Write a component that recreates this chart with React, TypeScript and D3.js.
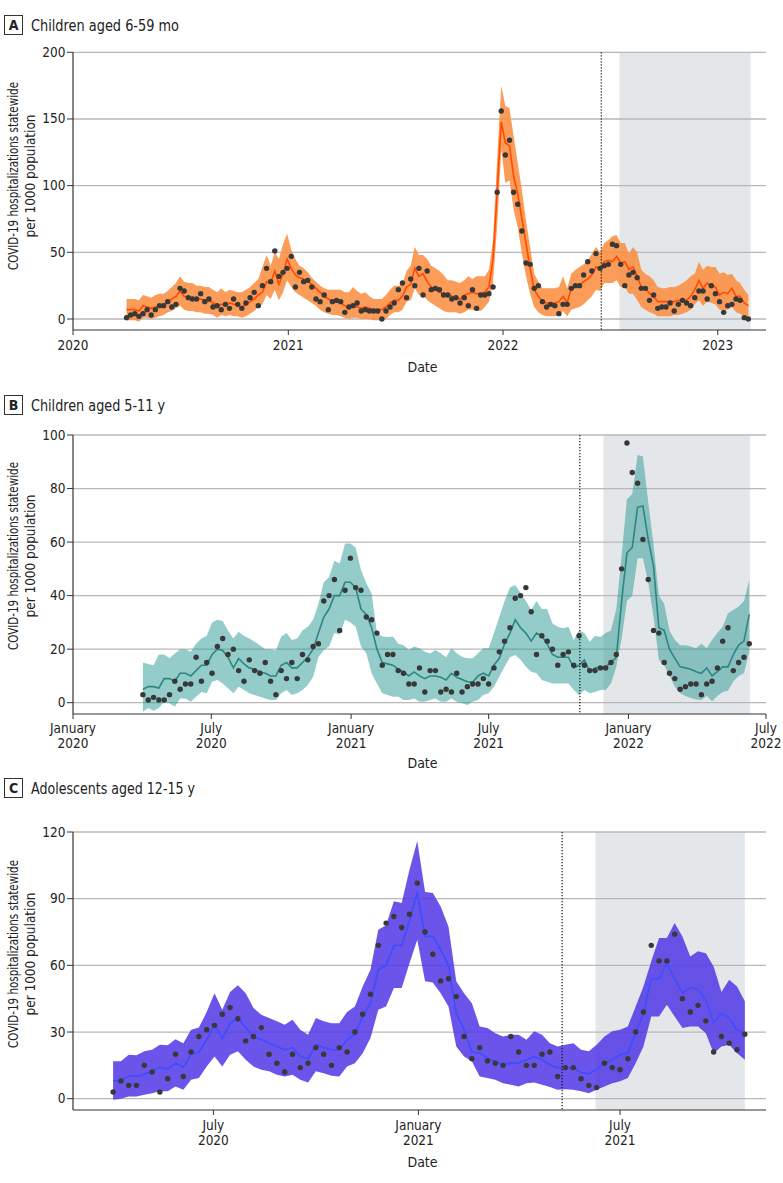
import React from "react";
import * as d3 from "d3";

// ---- Panel A: Children aged 6-59 mo (weekly from 2020-04-01) ----
const startA = "2020-04-01";
const obsA = [
  1, 3, 4, 2, 4, 7, 3, 7, 10, 10,
  13, 9, 11, 23, 21, 16, 15, 15, 19, 13,
  15, 9, 10, 7, 11, 8, 15, 11, 8, 12,
  16, 20, 10, 25, 38, 28, 51, 32, 35, 38,
  47, 24, 35, 28, 29, 24, 15, 13, 18, 7,
  13, 14, 13, 5, 9, 10, 12, 6, 7, 6,
  6, 6, 0, 6, 9, 12, 22, 27, 16, 30,
  25, 38, 18, 36, 22, 23, 22, 18, 18, 15,
  16, 12, 16, 10, 22, 8, 18, 18, 19, 24,
  95, 156, 123, 134, 95, 86, 66, 42, 41, 23,
  25, 13, 9, 11, 10, 4, 11, 11, 23, 25,
  25, 33, 43, 36, 49, 38, 40, 41, 56, 55,
  41, 25, 33, 35, 31, 23, 23, 14, 18, 8,
  9, 9, 12, 6, 11, 14, 12, 10, 16, 21,
  21, 15, 25, 19, 13, 5, 10, 11, 15, 14,
  1, 0,
];
const fitA = [
  7, 7, 7, 6, 10, 9, 8, 9, 10, 11,
  13, 15, 17, 21, 17, 16, 16, 15, 15, 14,
  14, 12, 10, 11, 10, 12, 11, 10, 9, 11,
  13, 15, 18, 20, 28, 27, 36, 26, 34, 45,
  38, 33, 31, 30, 28, 26, 23, 20, 17, 15,
  13, 13, 12, 10, 8, 10, 9, 8, 9, 8,
  7, 7, 7, 9, 12, 14, 14, 17, 24, 26,
  38, 32, 34, 28, 24, 22, 20, 19, 19, 17,
  16, 15, 18, 19, 20, 19, 19, 20, 24, 45,
  95, 148, 132, 130, 107, 94, 75, 57, 38, 22,
  17, 13, 12, 12, 12, 13, 17, 12, 23, 24,
  25, 28, 30, 33, 39, 37, 43, 44, 43, 47,
  42, 43, 37, 39, 32, 24, 23, 19, 17, 13,
  13, 13, 13, 13, 14, 13, 14, 17, 22, 29,
  23, 27, 25, 24, 18, 20, 19, 23, 17, 17,
  12, 10,
];
const hiA = [
  15, 15, 15, 14, 18, 17, 16, 18, 19, 19,
  21, 24, 27, 32, 28, 27, 27, 25, 25, 24,
  24, 22, 20, 23, 20, 22, 21, 20, 20, 22,
  24, 27, 30, 39, 48, 40, 50, 45, 56, 64,
  52, 45, 40, 38, 35, 31, 28, 25, 23, 22,
  22, 22, 22, 20, 20, 24, 21, 19, 20, 17,
  15, 15, 15, 18, 22, 25, 25, 26, 36, 40,
  54, 48, 48, 45, 40, 38, 36, 33, 29, 29,
  28, 27, 29, 32, 30, 32, 32, 32, 37, 59,
  120, 175, 160, 158, 137, 117, 97, 74, 54, 34,
  28, 23, 23, 23, 23, 24, 32, 23, 34, 37,
  39, 41, 44, 49, 54, 50, 57, 59, 62, 63,
  57, 57, 49, 54, 50, 37, 34, 32, 29, 24,
  23, 23, 24, 24, 25, 27, 29, 32, 34, 43,
  37, 40, 39, 39, 34, 35, 33, 34, 29, 27,
  22, 18,
];
const loA = [
  -1, -1, -1, -2, 1, 1, 0, 1, 2, 3,
  5, 6, 8, 10, 7, 6, 6, 5, 5, 4,
  4, 3, 1, 3, 2, 3, 2, 2, 1, 2,
  4, 6, 9, 11, 18, 15, 22, 14, 20, 29,
  24, 20, 18, 16, 14, 12, 10, 7, 5, 4,
  3, 3, 2, 1, 0, 1, 1, 0, 0, 0,
  -1, -1, -1, 0, 3, 5, 5, 7, 13, 14,
  23, 18, 18, 14, 12, 10, 8, 6, 5, 5,
  5, 4, 5, 7, 7, 6, 6, 9, 13, 27,
  70, 127, 102, 104, 82, 69, 49, 32, 19, 9,
  5, 3, 2, 2, 2, 3, 6, 2, 7, 8,
  9, 11, 14, 17, 22, 21, 27, 27, 27, 29,
  24, 24, 19, 19, 14, 9, 7, 5, 4, 2,
  2, 2, 2, 3, 3, 4, 5, 7, 11, 14,
  10, 13, 12, 11, 7, 7, 7, 9, 5, 4,
  2, 1,
];

// ---- Panel B: Children aged 5-11 y (weekly from 2020-04-02) ----
const startB = "2020-04-02";
const obsB = [
  3, 1, 2, 1, 1, 3, 8, 5, 7, 7,
  17, 8, 15, 11, 21, 24, 18, 20, 12, 8,
  16, 12, 11, 15, 8, 3, 12, 9, 15, 9,
  18, 16, 21, 22, 38, 40, 46, 27, 42, 54,
  43, 42, 32, 31, 26, 14, 18, 18, 12, 11,
  7, 7, 13, 4, 12, 12, 4, 5, 4, 11,
  4, 6, 7, 7, 9, 7, 13, 19, 23, 28,
  39, 40, 43, 34, 18, 25, 23, 20, 14, 18,
  19, 14, 25, 14, 12, 12, 13, 13, 15, 18,
  50, 97, 86, 82, 61, 46, 27, 26, 15, 11,
  9, 5, 6, 7, 7, 3, 7, 8, 13, 23,
  28, 12, 15, 17, 22,
];
const fitB = [
  5, 6, 6, 5.5, 9, 9, 8, 11, 11, 10,
  12, 14, 14, 18, 20, 19.5, 17, 13, 16.5, 14.5,
  13, 12.5, 11.5, 11, 10, 10, 14, 15, 13, 13,
  15, 17, 20, 26, 32, 35, 40, 40, 45, 45,
  43, 35, 33, 28, 20, 15, 14.5, 14, 12.5, 11.5,
  10, 11.5, 10, 9, 10, 10, 9.5, 8.5, 11, 9.5,
  8.7, 7.8, 7.6, 10, 11, 10, 14, 16.6, 22, 26,
  31, 28, 26, 23, 26, 25, 22, 18, 17, 17,
  17, 13, 14, 16, 11.5, 13, 13.4, 13.4, 15, 17,
  38, 56, 58, 73, 73.5, 61, 51, 28, 27, 20,
  16.6, 13.4, 13, 12.5, 11.6, 11, 13, 10, 11.6, 13.4,
  13.4, 18, 21.5, 23, 33,
];
const hiB = [
  15, 14.5, 14, 18, 18, 16.6, 18.4, 20, 20, 19,
  22, 24, 25, 30, 31, 30.5, 27, 24, 26.5, 25,
  24, 22.8, 21.5, 20, 20, 19.5, 24.7, 26, 23.4, 24,
  27, 28.4, 31, 37, 45, 47, 53, 52, 59.5, 59.5,
  58, 49.6, 44.6, 40.8, 26, 24.7, 24.5, 24.7, 22, 21.5,
  19.7, 21, 20.3, 19, 18.4, 19.7, 18.5, 17, 20.3, 18.5,
  17.2, 16.6, 16.6, 18.5, 20.3, 20.3, 26, 32, 38, 43,
  44, 41, 38, 34.6, 38, 35, 35, 29.6, 28.4, 27.8,
  28.4, 23.4, 27, 26, 22.8, 25, 24.5, 26, 27, 35,
  55, 76, 78, 92.5, 92, 75, 59, 40, 37, 27,
  23.4, 21.5, 21.5, 21, 20.3, 22, 20.3, 23.4, 26, 28.4,
  33.4, 34.6, 35.9, 38, 45.8,
];
const loB = [
  -3.4, -2, -3, -2, 0.4, -0.2, -1.5, 1.6, 1.6, 0.4,
  2.2, 4, 3.5, 7.8, 8.5, 7.2, 5.4, 3.5, 6, 4.7,
  3.5, 2.9, 2.2, 1.6, 1, 1, 3.5, 4.7, 2.9, 3.5,
  4.7, 6.6, 9.7, 17, 19.7, 21, 26, 25.4, 31, 30,
  28.4, 21, 18.4, 11, 7.2, 3.5, 2.9, 2.2, 2.2, 1,
  1, 1.6, 0.4, 0.4, 1, 1.6, 0.4, 0.4, 1.6, 0.4,
  -0.2, -0.9, 0.4, 1, 2.9, 3.5, 6, 9.7, 13.4, 17,
  17.8, 16, 13.4, 11.6, 11, 8.5, 7.8, 7.2, 7.2, 7.2,
  7.2, 4.7, 2.9, 4.7, 3.5, 4, 4.7, 4.7, 7.2, 13.4,
  24, 38, 40, 54, 54, 45, 32, 16, 14, 10,
  6, 3.5, 2.5, 1.8, 1.2, 1, 2.5, 0.5, 2.5, 4,
  4.5, 8, 10, 11, 19,
];

// ---- Panel C: Adolescents aged 12-15 y (weekly from 2020-04-02) ----
const startC = "2020-04-02";
const obsC = [
  3, 8, 6, 6, 15, 12, 3, 9, 20, 10,
  21, 28, 31, 33, 38, 41, 36, 26, 28, 32,
  20, 16, 12, 20, 14, 16, 23, 20, 15, 23,
  21, 30, 38, 47, 69, 79, 82, 77, 83, 97,
  75, 65, 53, 54, 46, 28, 18, 23, 17, 16,
  15, 28, 21, 15, 15, 20, 21, 10, 14, 14,
  9, 6, 5, 16, 14, 13, 18, 30, 39, 69,
  62, 62, 74, 45, 39, 42, 35, 21, 28, 25,
  22, 29,
];
const fitC = [
  8, 8, 10.3, 10, 11, 12.3, 14.2, 13.3, 16, 14.2,
  20, 21, 26.5, 33, 27, 34, 36.3, 32, 28, 26.5,
  25, 23.5, 22, 23, 19, 18, 24.3, 23, 22, 22,
  26.5, 29, 37, 43, 58, 60, 69, 69, 80, 93,
  73, 73, 67, 60, 38.5, 31, 21, 20.5, 18.3, 16.8,
  15.3, 16, 16, 17.5, 19, 17.5, 15.3, 13.8, 13.8, 13.8,
  11.8, 11.2, 13.3, 16, 17.5, 19.8, 20.5, 29.5, 38.5, 54,
  54, 61, 54, 47.5, 50, 49, 44.5, 34, 38.5, 36,
  31, 29.5,
];
const hiC = [
  16.8, 16.8, 19.8, 19.5, 21.3, 22, 24.3, 24, 26.8, 25,
  31, 32, 39, 47.5, 40, 48, 51, 47.5, 40.8, 37.8,
  36.3, 34.8, 33.3, 35.5, 31, 28.8, 36.3, 34.8, 34, 34,
  39, 41.5, 50.5, 58, 76, 78, 88.8, 88, 103, 116,
  93, 92.5, 86.5, 77.5, 52.8, 47.5, 43, 32.5, 31.8, 29.5,
  28, 28.8, 28.8, 26.5, 30.3, 28.8, 25, 23.5, 24.3, 25,
  22, 21.3, 24.3, 28, 30.3, 31, 32.5, 41.5, 50.5, 61.8,
  72.3, 72.3, 79, 73, 64, 66.3, 65.5, 59.5, 48, 53.5,
  50.5, 43.8,
];
const loC = [
  -0.5, 0, 1, 1, 1.8, 2.5, 3.3, 3.3, 5.5, 4,
  8.5, 9.3, 14.5, 19, 14.5, 19.8, 21.3, 17.5, 14.5, 13,
  12.3, 10.8, 10, 10.8, 8.5, 7.3, 12.3, 11.5, 10.3, 10,
  14.5, 16, 20.5, 27.3, 40, 41.5, 49.8, 49.8, 61, 71.5,
  52.8, 52.3, 47.5, 41.5, 23.5, 19, 16.8, 10, 9.3, 8.5,
  7, 6.3, 5.5, 7, 7.3, 6.3, 5.3, 4, 4.3, 4,
  3.3, 2.5, 4, 5.5, 7, 7.8, 9.3, 16, 23.5, 37,
  37, 42.3, 37, 31.8, 32.5, 32.5, 29.5, 20.5, 23.5, 24.3,
  20.5, 17.5,
];

// ---- axis ticks ----
const yTicksA = [0, 50, 100, 150, 200];
const yTicksB = [0, 20, 40, 60, 80, 100];
const yTicksC = [0, 30, 60, 90, 120];
const xTicksA = [
  { date: "2020-01-01", label: ["2020"] },
  { date: "2021-01-01", label: ["2021"] },
  { date: "2022-01-01", label: ["2022"] },
  { date: "2023-01-01", label: ["2023"] },
];
const xTicksB = [
  { date: "2020-01-01", label: ["January", "2020"] },
  { date: "2020-07-01", label: ["July", "2020"] },
  { date: "2021-01-01", label: ["January", "2021"] },
  { date: "2021-07-01", label: ["July", "2021"] },
  { date: "2022-01-01", label: ["January", "2022"] },
  { date: "2022-07-01", label: ["July", "2022"] },
];
const xTicksC = [
  { date: "2020-07-01", label: ["July", "2020"] },
  { date: "2021-01-01", label: ["January", "2021"] },
  { date: "2021-07-01", label: ["July", "2021"] },
];

const FONT = "'Liberation Sans Narrow', 'DejaVu Sans Condensed', 'Noto Sans', sans-serif";
const X0 = 73;
const X1 = 766;

const panels = [
  {
    letter: "A",
    title: "Children aged 6-59 mo",
    titleLen: 148,
    start: startA, obs: obsA, fit: fitA, hi: hiA, lo: loA,
    xDomain: ["2020-01-01", "2023-03-24"],
    yMax: 200, yTicks: yTicksA, xTicks: xTicksA,
    cutoff: "2022-06-17", shade: ["2022-07-18", "2023-02-26"],
    band: "#fb8b3c", bandOpacity: 0.85, lineColor: "#ff4a00",
    headerY: 25, yTop: 52.3, yZero: 319, axisY: 330, tickY: 350, dateY: 372, titleY: 176,
  },
  {
    letter: "B",
    title: "Children aged 5-11 y",
    titleLen: 134,
    start: startB, obs: obsB, fit: fitB, hi: hiB, lo: loB,
    xDomain: ["2020-01-01", "2022-07-01"],
    yMax: 100, yTicks: yTicksB, xTicks: xTicksB,
    cutoff: "2021-10-29", shade: ["2021-11-29", "2022-06-10"],
    band: "#2a9a93", bandOpacity: 0.5, lineColor: "#2e8680",
    headerY: 405, yTop: 435, yZero: 702.7, axisY: 714, tickY: 733, dateY: 768, titleY: 556,
  },
  {
    letter: "C",
    title: "Adolescents aged 12-15 y",
    titleLen: 164,
    start: startC, obs: obsC, fit: fitC, hi: hiC, lo: loC,
    xDomain: ["2020-02-26", "2021-11-09"],
    yMax: 120, yTicks: yTicksC, xTicks: xTicksC,
    cutoff: "2021-05-10", shade: ["2021-06-09", "2021-10-21"],
    band: "#5036e6", bandOpacity: 0.85, lineColor: "#3d4dff",
    headerY: 788, yTop: 832, yZero: 1098.7, axisY: 1110, tickY: 1130, dateY: 1167, titleY: 954,
  },
];

const utc = (s: string) => new Date(s + "T00:00:00Z");

function Panel({ p }: { p: any }) {
  const x = d3.scaleUtc().domain(p.xDomain.map(utc)).range([X0, X1]);
  const y = d3.scaleLinear().domain([0, p.yMax]).range([p.yZero, p.yTop]);
  const dates = p.obs.map((_: number, i: number) => d3.utcDay.offset(utc(p.start), 7 * i));

  const area = d3
    .area<number>()
    .x((_, i) => x(dates[i]))
    .y0((_, i) => y(p.lo[i]))
    .y1((_, i) => y(p.hi[i]));
  const line = d3
    .line<number>()
    .x((_, i) => x(dates[i]))
    .y((d) => y(d));

  const cx = x(utc(p.cutoff));
  const s0 = x(utc(p.shade[0]));
  const s1 = x(utc(p.shade[1]));

  return (
    <g>
      <rect x={4.5} y={p.headerY - 9.5} width={18} height={19} fill="none" stroke="#333" strokeWidth={1} />
      <text x={13.5} y={p.headerY + 5} textAnchor="middle" fontSize={14} fontWeight="bold" fill="#222">
        {p.letter}
      </text>
      <text
        x={31}
        y={p.headerY + 5.5}
        fontSize={15.5}
        fill="#222"
        textLength={p.titleLen}
        lengthAdjust="spacingAndGlyphs"
      >
        {p.title}
      </text>

      <rect x={s0} y={p.yTop} width={s1 - s0} height={p.axisY - p.yTop} fill="#e4e7e9" />

      {p.yTicks.map((t: number) => (
        <line key={t} x1={X0} x2={X1} y1={y(t)} y2={y(t)} stroke="#b8b8b8" strokeWidth={1.3} />
      ))}

      <path d={area(p.fit) ?? ""} fill={p.band} fillOpacity={p.bandOpacity} />
      <path d={line(p.fit) ?? ""} fill="none" stroke={p.lineColor} strokeWidth={1.6} />

      <line x1={cx} x2={cx} y1={p.yTop} y2={p.axisY} stroke="#111" strokeWidth={1.2} strokeDasharray="1.2,1.8" />

      {p.obs.map((v: number, i: number) => (
        <circle key={i} cx={x(dates[i])} cy={y(v)} r={2.7} fill="#383838" />
      ))}

      {/* y axis */}
      <line x1={X0} x2={X0} y1={p.yTop} y2={p.axisY} stroke="#333" strokeWidth={1.2} />
      {p.yTicks.map((t: number) => (
        <g key={t}>
          <line x1={X0 - 6} x2={X0} y1={y(t)} y2={y(t)} stroke="#333" strokeWidth={1} />
          <text x={X0 - 7.5} y={y(t) + 4.5} textAnchor="end" fontSize={13.5} fill="#222">
            {t}
          </text>
        </g>
      ))}
      <text
        transform={`translate(17.5,${p.titleY}) rotate(-90)`}
        textAnchor="middle"
        fontSize={14.5}
        fill="#222"
        textLength={188}
        lengthAdjust="spacingAndGlyphs"
      >
        COVID-19 hospitalizations statewide
      </text>
      <text
        transform={`translate(35,${p.titleY}) rotate(-90)`}
        textAnchor="middle"
        fontSize={14.5}
        fill="#222"
        textLength={123}
        lengthAdjust="spacingAndGlyphs"
      >
        per 1000 population
      </text>

      {/* x axis */}
      <line x1={X0} x2={X1} y1={p.axisY} y2={p.axisY} stroke="#333" strokeWidth={1.2} />
      {p.xTicks.map((t: any) => {
        const tx = x(utc(t.date));
        return (
          <g key={t.date}>
            <line x1={tx} x2={tx} y1={p.axisY} y2={p.axisY + 5} stroke="#333" strokeWidth={1} />
            {t.label.map((l: string, j: number) => (
              <text key={j} x={tx} y={p.tickY + 15 * j} textAnchor="middle" fontSize={13.5} fill="#222">
                {l}
              </text>
            ))}
          </g>
        );
      })}
      <text x={(X0 + X1) / 2 + 3} y={p.dateY} textAnchor="middle" fontSize={14} fill="#222">
        Date
      </text>
    </g>
  );
}

export default function App() {
  return (
    <svg
      width={783}
      height={1183}
      style={{ position: "absolute", left: 0, top: 0, background: "#fff" }}
      fontFamily={FONT}
    >
      {panels.map((p) => (
        <Panel key={p.letter} p={p} />
      ))}
    </svg>
  );
}
